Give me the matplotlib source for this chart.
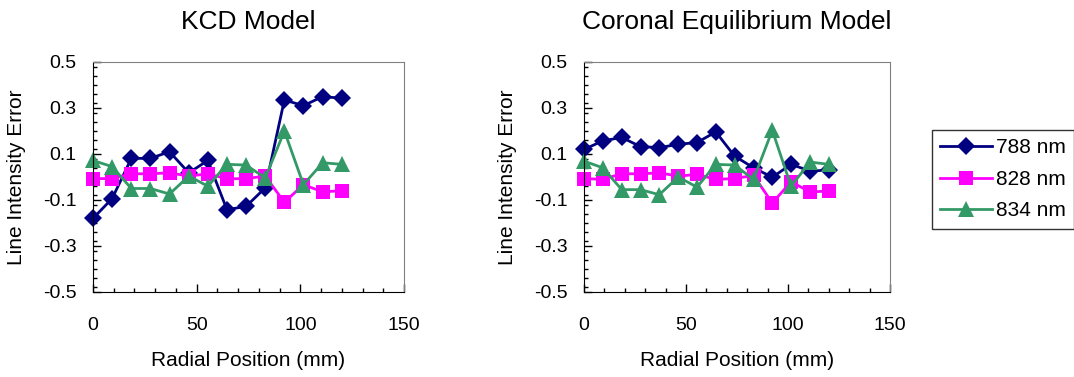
import matplotlib.pyplot as plt
import numpy as np
from matplotlib.ticker import MultipleLocator, FixedLocator

plt.rcParams['font.family'] = ['Liberation Sans', 'DejaVu Sans']

# radial positions (mm)
pos = [0, 9.2, 18.5, 27.7, 36.9, 46.2, 55.4, 64.6, 73.8, 83.1, 92.3, 101.5, 110.8, 120]

# KCD model
kcd_788 = [-0.18, -0.094, 0.081, 0.081, 0.11, 0.018, 0.072, -0.142, -0.128, -0.047, 0.335, 0.31, 0.35, 0.342]
kcd_828 = [-0.007, -0.007, 0.014, 0.014, 0.018, 0.004, 0.014, -0.008, -0.007, 0.004, -0.11, -0.033, -0.065, -0.059]
kcd_834 = [0.072, 0.045, -0.05, -0.05, -0.074, 0.004, -0.04, 0.055, 0.052, -0.004, 0.2, -0.033, 0.062, 0.055]

# coronal equilibrium model
ce_788 = [0.12, 0.157, 0.172, 0.132, 0.128, 0.142, 0.15, 0.196, 0.091, 0.04, -0.001, 0.055, 0.026, 0.03]
ce_828 = [-0.007, -0.01, 0.014, 0.014, 0.018, 0.004, 0.011, -0.01, -0.007, 0.007, -0.113, -0.021, -0.065, -0.061]
ce_834 = [0.069, 0.04, -0.055, -0.055, -0.077, 0.0, -0.044, 0.055, 0.052, -0.01, 0.203, -0.04, 0.065, 0.055]

labels = ['788 nm', '828 nm', '834 nm']
colors = ['#000080', '#FF00FF', '#339966']
markers = ['D', 's', '^']
msizes = [9.5, 10.5, 11]

fig = plt.figure(figsize=(10.74, 3.77), dpi=100)
W, H = 1074, 377
ax1 = fig.add_axes([93 / W, 1 - 292 / H, 311 / W, 230 / H])
ax2 = fig.add_axes([584 / W, 1 - 292 / H, 306 / W, 230 / H])


def draw(ax, series, title):
    lines = []
    for ys, c, m, ms, lab in zip(series, colors, markers, msizes, labels):
        ln, = ax.plot(pos, ys, color=c, marker=m, markersize=ms, linewidth=2,
                      markeredgewidth=0, label=lab, clip_on=False)
        lines.append(ln)
    ax.set_xlim(0, 150)
    ax.set_ylim(-0.5, 0.5)
    ax.xaxis.set_major_locator(MultipleLocator(50))
    ax.xaxis.set_minor_locator(MultipleLocator(10))
    ax.yaxis.set_major_locator(FixedLocator([-0.5, -0.3, -0.1, 0.1, 0.3, 0.5]))
    ax.yaxis.set_minor_locator(MultipleLocator(0.04))
    ax.set_yticklabels(['-0.5', '-0.3', '-0.1', '0.1', '0.3', '0.5'])
    ax.tick_params(which='both', direction='in', labelsize=14, width=1, color='black')
    ax.tick_params(which='major', length=6)
    ax.tick_params(which='minor', length=3)
    ax.tick_params(axis='x', pad=18)
    ax.tick_params(axis='y', pad=12)
    for s in ['top', 'right']:
        ax.spines[s].set_color('#808080')
    for s in ['left', 'bottom']:
        ax.spines[s].set_color('black')
    ax.set_xlabel('Radial Position (mm)', fontsize=15, labelpad=12)
    ax.set_ylabel('Line Intensity Error', fontsize=15, labelpad=12)
    ax.set_title(title, fontsize=19, pad=24)
    return lines


lines = draw(ax1, [kcd_788, kcd_828, kcd_834], 'KCD Model')
draw(ax2, [ce_788, ce_828, ce_834], 'Coronal Equilibrium Model')

leg = fig.legend(handles=lines, loc='upper left', bbox_to_anchor=(932 / W, 1 - 130 / H),
                 fontsize=15, frameon=True, fancybox=False, edgecolor='black',
                 handlelength=2.5, borderpad=0.4, labelspacing=0.6, handletextpad=0.15,
                 borderaxespad=0)
leg.get_frame().set_linewidth(1)

fig.savefig('out.png', dpi=100)
